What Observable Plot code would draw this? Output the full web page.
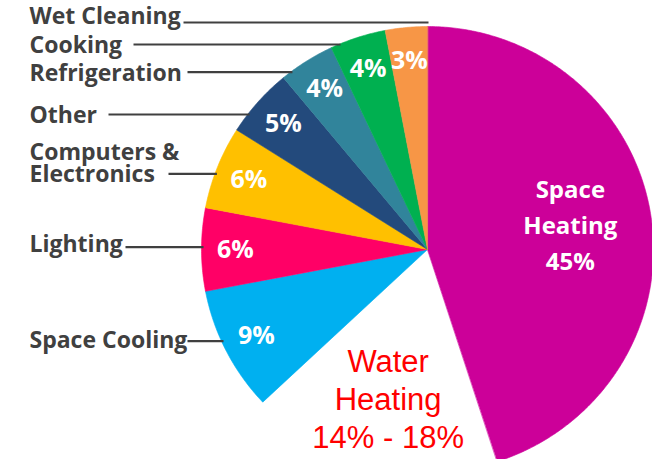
<!DOCTYPE html>
<html>
<head>
<meta charset="utf-8">
<script src="https://cdn.jsdelivr.net/npm/d3@7"></script>
<script src="https://cdn.jsdelivr.net/npm/@observablehq/plot@0.6"></script>
<style>
  html, body { margin: 0; padding: 0; background: #fff; }
  #chart svg { display: block; }
</style>
</head>
<body>
<div id="chart"></div>
<script>
// ---- data ----
const categories = ["Space Heating", "Water Heating", "Space Cooling", "Lighting",
  "Computers & Electronics", "Other", "Refrigeration", "Cooking", "Wet Cleaning"];
const shares = [45, 18, 9, 6, 6, 5, 4, 4, 3];
const shareLabels = ["45%", "14% - 18%", "9%", "6%", "6%", "5%", "4%", "4%", "3%"];

// ---- styles / layout ----
const sliceColors = ["#CC0099", "#FFFFFF", "#00B0F0", "#FF0066", "#FFC000",
  "#234A7C", "#31849B", "#00B050", "#F79646"];
const W = 652, H = 459;
const cx = 427, cy = 249, rx = 226, ry = 223;
const labelFont = "'Open Sans', 'DejaVu Sans', sans-serif";
const labelSize = 23;
const pctSize = 25;
const heatSize = 24;
const outerX = 29;
const outerY = {"Wet Cleaning": 16.7, "Cooking": 45.8, "Refrigeration": 73.3, "Other": 115,
  "Computers & Electronics": 163.3, "Lighting": 244.7, "Space Cooling": 340};
const leaderY = {"Wet Cleaning": 22, "Cooking": 44, "Refrigeration": 71.7, "Other": 114,
  "Computers & Electronics": 173.3, "Lighting": 246.7, "Space Cooling": 340.7};
const leaderStart = {"Wet Cleaning": 183, "Cooking": 133, "Refrigeration": 187, "Other": 108,
  "Computers & Electronics": 168, "Lighting": 125, "Space Cooling": 187};
const innerRadius = {"Space Heating": 0.64, "Water Heating": 0.70};
const defaultInnerRadius = 0.85;

// ---- build ----
const rows = categories.map((c, i) => ({category: c, share: shares[i], label: shareLabels[i]}));
const arcs = d3.pie().sort(null).value(d => d.share).startAngle(0).endAngle(2 * Math.PI)(rows);
const px = (a, k) => cx + k * rx * Math.sin(a);
const py = (a, k) => cy - k * ry * Math.cos(a);

const slicePts = arcs.filter(a => a.data.category !== "Water Heating").flatMap(a => {
  const c = a.data.category;
  const n = Math.max(2, Math.ceil((a.endAngle - a.startAngle) / (Math.PI / 360)));
  const pts = [{category: c, x: cx, y: cy}];
  for (let i = 0; i <= n; i++) {
    const t = a.startAngle + (a.endAngle - a.startAngle) * i / n;
    pts.push({category: c, x: px(t, 1), y: py(t, 1)});
  }
  return pts;
});

const inner = arcs.map(a => {
  const c = a.data.category;
  const mid = (a.startAngle + a.endAngle) / 2;
  const k = innerRadius[c] ?? defaultInnerRadius;
  let text = a.data.label;
  if (c === "Space Heating" || c === "Water Heating") text = c.replace(" ", "\n") + "\n" + a.data.label;
  return {category: c, x: px(mid, k), y: py(mid, k), text};
});
const small = inner.filter(d => d.category !== "Space Heating" && d.category !== "Water Heating");
const heat = inner.filter(d => d.category === "Space Heating");
const water = inner.filter(d => d.category === "Water Heating");

const outer = categories.filter(c => c in outerY).map(c => ({
  category: c, y: outerY[c], text: c.replace("& ", "&\n")
}));
const leaders = categories.filter(c => c in leaderY).map(c => {
  const y = leaderY[c];
  const t = (y - cy) / ry;
  const x2 = y > cy - ry * 0.985 && Math.abs(t) < 1 ? cx - rx * Math.sqrt(1 - t * t) + 2 : cx + 1;
  return {category: c, x1: leaderStart[c], x2, y};
});

const chart = Plot.plot({
  width: W, height: H, margin: 0,
  style: {fontFamily: labelFont, background: "#fff"},
  x: {domain: [0, W], range: [0, W], axis: null},
  y: {domain: [0, H], range: [0, H], axis: null},
  color: {domain: categories, range: sliceColors},
  marks: [
    Plot.line(slicePts, {x: "x", y: "y", z: "category", fill: "category", stroke: "category",
      strokeWidth: 0.6, curve: "linear-closed"}),
    Plot.link(leaders, {x1: "x1", x2: "x2", y1: "y", y2: "y", stroke: "#404040", strokeWidth: 2.2}),
    Plot.text(outer, {x: () => outerX, y: "y", text: "text", textAnchor: "start",
      fill: "#404040", fontWeight: "bold", fontSize: labelSize, lineHeight: 0.95}),
    Plot.text(small, {x: "x", y: "y", text: "text", fill: "white", fontWeight: "bold",
      fontSize: pctSize}),
    Plot.text(heat, {x: "x", y: "y", dy: -5, text: "text", fill: "white", fontWeight: "bold",
      fontSize: heatSize, lineHeight: 1.5}),
    Plot.text(water, {x: "x", y: "y", dy: -3, text: "text", fill: "#FF0000", fontWeight: "normal",
      fontSize: 31, lineHeight: 1.24, fontFamily: "'Liberation Sans', Arial, sans-serif"})
  ]
});
document.getElementById("chart").appendChild(chart);
</script>
</body>
</html>
